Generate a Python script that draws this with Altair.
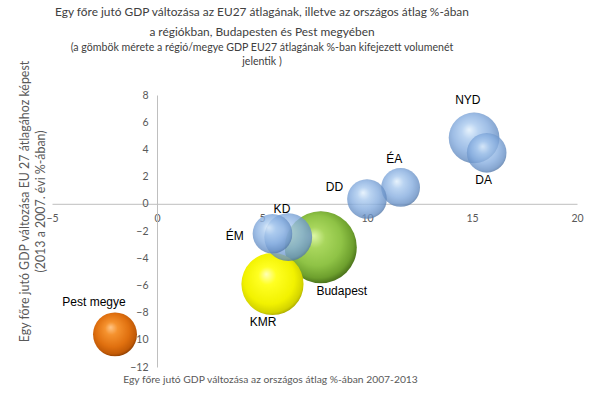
import altair as alt
import pandas as pd

# ---- data ----
names = ["NYD", "DA", "ÉA", "DD", "KD", "ÉM", "Budapest", "KMR", "Pest megye"]
x_vals = [15.1, 15.7, 11.6, 10.0, 6.25, 5.5, 7.8, 5.5, -2.0]
y_vals = [4.85, 3.75, 1.2, 0.35, -2.45, -2.2, -3.2, -5.9, -9.6]
sizes = [72, 44, 42, 44, 64, 44, 145, 108, 54]
groups = ["régió", "régió", "régió", "régió", "régió", "régió", "Budapest", "KMR", "Pest megye"]
label_x = [14.8, 15.55, 11.3, 8.45, 5.95, 3.7, 8.8, 5.05, -3.0]
label_y = [7.65, 1.75, 3.3, 1.25, -0.35, -2.35, -6.4, -8.7, -7.2]
x_ticks = [-5, 0, 5, 10, 15, 20]
y_ticks = [-12, -10, -8, -6, -4, -2, 0, 2, 4, 6, 8]

title_lines = ["Egy főre jutó GDP változása az EU27 átlagának, illetve az országos átlag %-ában",
               "a régiókban, Budapesten és Pest megyében"]
subtitle_lines = ["(a gömbök  mérete  a  régió/megye  GDP EU27  átlagának %-ban kifejezett volumenét",
                  "jelentik )"]
x_title = "Egy főre jutó GDP változása az országos átlag %-ában 2007-2013"
y_title = ["Egy főre jutó GDP változása EU 27 átlagához képest", "(2013 a 2007. évi %-ában)"]

df = pd.DataFrame({"name": names, "x": x_vals, "y": y_vals, "size": sizes,
                   "group": groups, "lx": label_x, "ly": label_y})

W, H = 525, 272
TXT = "#595959"
FONT = "Lato"

xscale = alt.Scale(domain=[x_ticks[0], x_ticks[-1]], nice=False, zero=False)
yscale = alt.Scale(domain=[y_ticks[0], y_ticks[-1]], nice=False, zero=False)
sscale = alt.Scale(type="linear", zero=True, domain=[0, max(sizes)], range=[0, 5184])

x_axis = alt.Axis(values=x_ticks, grid=False, ticks=False, tickSize=0, domain=True,
                  domainColor="#bfbfbf", labelFlush=False, labelOverlap=False,
                  labelFont=FONT, labelFontSize=10.5, labelColor=TXT, labelPadding=10,
                  offset=-163.2, title=x_title, titleFont=FONT, titleFontSize=10.3,
                  titleFontWeight="normal", titleColor=TXT, titleX=218, titleY=176,
                  titleBaseline="middle", titleAlign="center")
y_axis = alt.Axis(values=y_ticks, grid=False, ticks=False, tickSize=0, domain=True,
                  domainColor="#bfbfbf", labelFlush=False, labelOverlap=False,
                  labelFont=FONT, labelFontSize=10.5, labelColor=TXT, labelPadding=9,
                  offset=-105, title=y_title, titleFont=FONT, titleFontSize=12.4,
                  titleFontWeight="normal", titleColor=TXT, titleX=-139, titleY=106,
                  titleAlign="center", titleBaseline="top", titleAngle=270, titleLineHeight=16)


def grad(stops):
    return alt.RadialGradient(gradient="radial", x1=0.4, y1=0.34, r1=0.0,
                              x2=0.47, y2=0.45, r2=0.58,
                              stops=[alt.GradientStop(offset=o, color=c) for o, c in stops])


palette = {
    "Budapest": grad([(0, "#def7a8"), (0.25, "#a8d65c"), (0.6, "#8fc346"), (0.85, "#6d9f2d"), (1, "#3f6315")]),
    "KMR": grad([(0, "#ffffb8"), (0.25, "#ffff22"), (0.7, "#f2f200"), (0.9, "#d4d400"), (1, "#9a9a00")]),
    "Pest megye": grad([(0, "#ffc587"), (0.25, "#f5922e"), (0.65, "#e0700f"), (0.88, "#c25a06"), (1, "#7e3600")]),
    "régió": grad([(0, "#e2f0fc"), (0.28, "#a9c9ee"), (0.62, "#86addf"), (0.88, "#6890c5"), (1, "#4a6c98")]),
}
alpha = {"Budapest": 1, "KMR": 1, "Pest megye": 1, "régió": 0.8}

base = alt.Chart(df)
layers = []
for g in ["Budapest", "KMR", "Pest megye", "régió"]:
    layer = base.transform_filter(alt.datum.group == g).mark_circle(
        fill=palette[g], opacity=alpha[g], strokeWidth=0
    ).encode(
        x=alt.X("x:Q", scale=xscale, axis=x_axis),
        y=alt.Y("y:Q", scale=yscale, axis=y_axis),
        size=alt.Size("size:Q", scale=sscale, legend=None),
    )
    layers.append(layer)

labels = base.mark_text(font="Liberation Sans", fontSize=12, color="#000000",
                        align="center", baseline="middle").encode(
    x=alt.X("lx:Q", scale=xscale, axis=x_axis),
    y=alt.Y("ly:Q", scale=yscale, axis=y_axis),
    text="name:N",
)
layers.append(labels)

# chart title lines as text placed above the plot area (pixel offsets relative to plot origin)
title_specs = [(title_lines[0], 11.9, -83), (title_lines[1], 11.9, -63),
               (subtitle_lines[0], 10.6, -47), (subtitle_lines[1], 10.6, -33)]
for txt, fs, ypos in title_specs:
    layers.append(
        alt.Chart(pd.DataFrame({"t": [txt]})).mark_text(
            font=FONT, fontSize=fs, color="#404040", align="center", baseline="middle"
        ).encode(text="t:N", x=alt.value(210), y=alt.value(ypos))
    )

chart = alt.layer(*layers).properties(
    width=W, height=H,
    background="white",
    autosize=alt.AutoSizeParams(type="none"),
    padding={"left": 52, "top": 95, "right": 28, "bottom": 38},
).configure_view(stroke=None)

chart.save("out.html", embed_options={"renderer": "svg", "actions": False})
